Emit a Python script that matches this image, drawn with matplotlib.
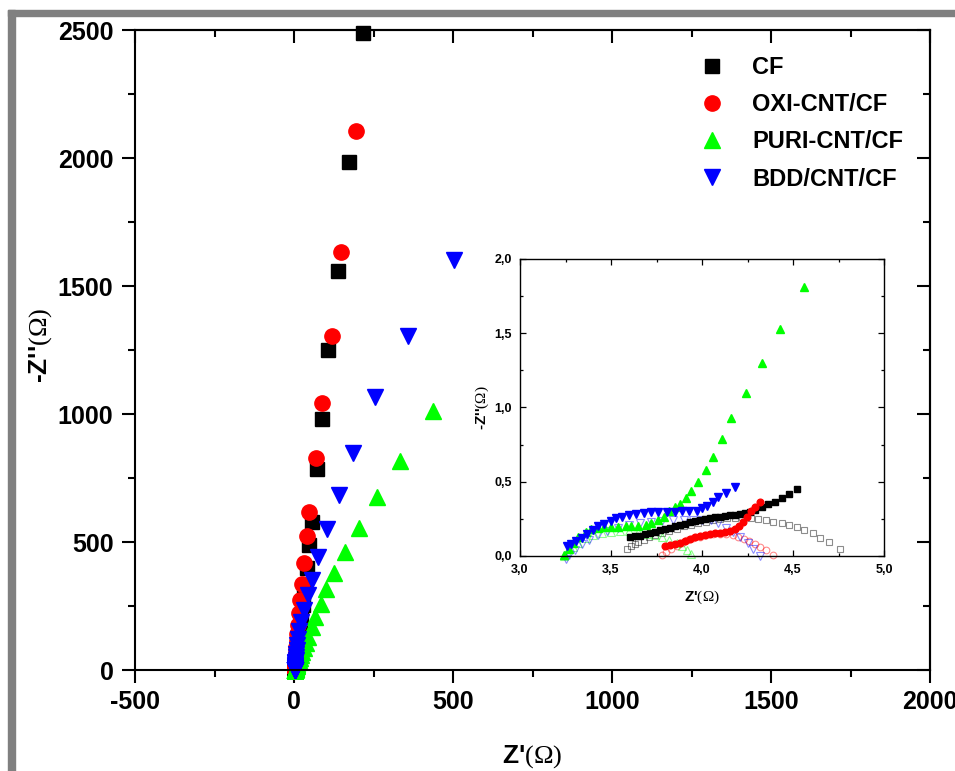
import matplotlib.pyplot as plt
from matplotlib.patches import Rectangle
from matplotlib.ticker import MultipleLocator, FuncFormatter

plt.rcParams['font.family'] = 'Liberation Sans'
plt.rcParams['mathtext.fontset'] = 'custom'
plt.rcParams['mathtext.rm'] = 'Liberation Serif'
plt.rcParams['axes.unicode_minus'] = False

# low-frequency points (main plot)
cf_x = [216, 172, 139, 107, 89, 71, 56, 48, 40, 33, 27, 22, 18, 15, 12, 10, 9, 8, 7, 6.3, 5.7, 5.3, 5.0, 4.8, 4.7, 4.6]
cf_y = [2490, 1986, 1560, 1250, 980, 784, 579, 488, 398, 318, 255, 204, 163, 130, 104, 83, 66, 53, 42, 34, 27, 22, 17, 14, 11, 9]
oxi_x = [195, 147, 119, 89, 68, 48, 40, 31, 25, 19, 15, 12, 10, 8.8, 7.8, 7.0, 6.4, 5.9, 5.5, 5.2, 5.0, 4.8, 4.7, 4.6, 4.5]
oxi_y = [2105, 1632, 1305, 1044, 829, 618, 525, 419, 336, 273, 224, 176, 140, 112, 90, 72, 57, 46, 37, 29, 23, 18, 15, 12, 9]
puri_x = [436, 333, 260, 205, 160, 127, 101, 84, 66, 56, 45, 38, 31, 26, 22, 18, 15, 13, 11, 9.5, 8.3, 7.4, 6.6, 6.0, 5.6, 5.2, 5.0, 4.85, 4.7]
puri_y = [1012, 816, 677, 556, 462, 380, 315, 258, 208, 169, 130, 107, 87, 71, 58, 47, 38, 31, 25, 20, 16, 13, 10, 8, 6.5, 5, 4, 3.2, 2.5]
bdd_x = [503, 358, 255, 186, 142, 103, 76, 56, 45, 31, 21, 16, 12, 10, 8, 6.5, 5.5, 5.0, 4.6, 4.4, 4.3, 4.25, 4.2, 4.2, 4.2, 4.18]
bdd_y = [1602, 1305, 1068, 849, 684, 551, 440, 352, 293, 234, 189, 152, 121, 97, 78, 62, 50, 40, 32, 26, 20, 16, 12, 9, 7, 5]

# high-frequency points (inset, filled)
cf_in_x = [3.604, 3.632, 3.659, 3.687, 3.714, 3.742, 3.769, 3.797, 3.824, 3.852, 3.879, 3.907, 3.934, 3.962, 3.989, 4.017,
           4.044, 4.071, 4.099, 4.126, 4.154, 4.181, 4.209, 4.236, 4.264, 4.291, 4.328, 4.364, 4.401, 4.438, 4.478, 4.520]
cf_in_y = [0.130, 0.134, 0.137, 0.146, 0.153, 0.164, 0.173, 0.182, 0.191, 0.200, 0.209, 0.218, 0.227, 0.236, 0.242, 0.249,
           0.256, 0.260, 0.265, 0.269, 0.274, 0.278, 0.283, 0.290, 0.299, 0.310, 0.330, 0.348, 0.366, 0.389, 0.416, 0.451]
oxi_in_x = [3.797, 3.824, 3.852, 3.879, 3.907, 3.934, 3.962, 3.989, 4.017, 4.044, 4.071, 4.099, 4.126, 4.154, 4.181,
            4.203, 4.225, 4.247, 4.269, 4.291, 4.319]
oxi_in_y = [0.070, 0.074, 0.081, 0.090, 0.101, 0.115, 0.126, 0.135, 0.144, 0.150, 0.155, 0.157, 0.162, 0.168, 0.182,
            0.204, 0.231, 0.265, 0.303, 0.332, 0.361]
puri_in_x = [3.24, 3.27, 3.29, 3.32, 3.36, 3.39, 3.43, 3.46, 3.50, 3.54, 3.58, 3.61, 3.65, 3.69, 3.72, 3.76, 3.79, 3.82,
             3.85, 3.88, 3.91, 3.94, 3.98, 4.02, 4.06, 4.11, 4.16, 4.24, 4.33, 4.43, 4.56]
puri_in_y = [0.01, 0.05, 0.09, 0.13, 0.16, 0.18, 0.19, 0.195, 0.195, 0.197, 0.20, 0.20, 0.205, 0.21, 0.225, 0.24, 0.265,
             0.30, 0.33, 0.35, 0.39, 0.44, 0.50, 0.58, 0.67, 0.79, 0.93, 1.10, 1.30, 1.53, 1.81]
bdd_in_x = [3.26, 3.28, 3.31, 3.34, 3.37, 3.40, 3.43, 3.46, 3.50, 3.53, 3.56, 3.60, 3.64, 3.68, 3.72, 3.76, 3.81, 3.85,
            3.89, 3.93, 3.97, 4.00, 4.03, 4.06, 4.09, 4.13, 4.18]
bdd_in_y = [0.07, 0.08, 0.10, 0.12, 0.15, 0.175, 0.20, 0.215, 0.235, 0.255, 0.265, 0.275, 0.285, 0.29, 0.295, 0.295, 0.295,
            0.295, 0.30, 0.30, 0.306, 0.32, 0.34, 0.366, 0.40, 0.422, 0.463]

# inset, open symbols
cf_o_x = [3.59, 3.61, 3.63, 3.65, 3.68, 3.71, 3.74, 3.78, 3.82, 3.86, 3.90, 3.94, 3.98, 4.02, 4.06, 4.10, 4.14, 4.18,
          4.22, 4.27, 4.31, 4.35, 4.39, 4.44, 4.48, 4.52, 4.56, 4.61, 4.65, 4.70, 4.76]
cf_o_y = [0.05, 0.065, 0.08, 0.095, 0.11, 0.125, 0.14, 0.155, 0.17, 0.185, 0.20, 0.21, 0.22, 0.23, 0.24, 0.248, 0.254,
          0.258, 0.26, 0.258, 0.252, 0.243, 0.232, 0.22, 0.209, 0.193, 0.175, 0.153, 0.124, 0.092, 0.045]
oxi_o_x = [3.78, 3.80, 3.83, 3.86, 3.89, 3.92, 3.95, 3.99, 4.02, 4.06, 4.10, 4.13, 4.17, 4.20, 4.23, 4.26, 4.29, 4.32, 4.35, 4.39]
oxi_o_y = [0.01, 0.03, 0.05, 0.07, 0.09, 0.105, 0.12, 0.13, 0.14, 0.145, 0.148, 0.148, 0.14, 0.13, 0.115, 0.10, 0.08, 0.06, 0.04, 0.01]
puri_o_x = [3.24, 3.26, 3.29, 3.32, 3.36, 3.40, 3.45, 3.50, 3.55, 3.60, 3.65, 3.70, 3.74, 3.78, 3.82, 3.86, 3.89, 3.92, 3.94]
puri_o_y = [0.0, 0.03, 0.06, 0.09, 0.12, 0.14, 0.155, 0.16, 0.165, 0.165, 0.16, 0.15, 0.14, 0.125, 0.11, 0.09, 0.065, 0.04, 0.015]
bdd_o_x = [3.25, 3.27, 3.30, 3.34, 3.38, 3.43, 3.48, 3.54, 3.60, 3.66, 3.72, 3.78, 3.84, 3.90, 3.95, 4.00, 4.05, 4.09,
           4.13, 4.17, 4.21, 4.25, 4.28, 4.32]
bdd_o_y = [-0.02, 0.01, 0.04, 0.08, 0.11, 0.14, 0.17, 0.19, 0.21, 0.22, 0.23, 0.235, 0.24, 0.245, 0.245, 0.245, 0.24,
           0.22, 0.19, 0.16, 0.13, 0.09, 0.05, 0.0]

labels = ['CF', 'OXI-CNT/CF', 'PURI-CNT/CF', 'BDD/CNT/CF']
colors = ['#000000', '#ff0000', '#00ff00', '#0000ff']
markers = ['s', 'o', '^', 'v']
main_ms = [9.5, 11, 12, 12]
inset_ms = [4.2, 4.8, 5.3, 5.3]

main_sets = [(cf_x + cf_in_x, cf_y + cf_in_y), (oxi_x + oxi_in_x, oxi_y + oxi_in_y),
             (puri_x + puri_in_x, puri_y + puri_in_y), (bdd_x + bdd_in_x, bdd_y + bdd_in_y)]
inset_sets = [(cf_in_x, cf_in_y), (oxi_in_x, oxi_in_y), (puri_in_x, puri_in_y), (bdd_in_x, bdd_in_y)]
open_sets = [(cf_o_x, cf_o_y), (oxi_o_x, oxi_o_y), (puri_o_x, puri_o_y), (bdd_o_x, bdd_o_y)]

fig = plt.figure(figsize=(9.55, 7.71), dpi=100)

# grey frame of the screenshot
fig.patches.append(Rectangle((8 / 955, 0), 7 / 955, 761 / 771, transform=fig.transFigure,
                             color='#808080', zorder=0))
fig.patches.append(Rectangle((8 / 955, 755 / 771), 947 / 955, 6 / 771, transform=fig.transFigure,
                             color='#808080', zorder=0))

ax = fig.add_axes([135 / 955, 101 / 771, 795 / 955, 640 / 771])
handles = []
for (xs, ys), lab, c, m, ms in zip(main_sets, labels, colors, markers, main_ms):
    h, = ax.plot(xs, ys, ls='none', marker=m, ms=ms, color=c, mec=c, label=lab, clip_on=False)
    handles.append(h)

ax.set_xlim(-500, 2000)
ax.set_ylim(0, 2500)
ax.xaxis.set_major_locator(MultipleLocator(500))
ax.xaxis.set_minor_locator(MultipleLocator(250))
ax.yaxis.set_major_locator(MultipleLocator(500))
ax.yaxis.set_minor_locator(MultipleLocator(250))
ax.tick_params(which='both', direction='out', width=1.5, top=False, right=False)
ax.tick_params(which='major', length=9.5)
ax.tick_params(which='minor', length=5)
ax.tick_params(axis='x', pad=5, labelsize=18)
ax.tick_params(axis='y', pad=6, labelsize=18)
for lbl in ax.get_xticklabels() + ax.get_yticklabels():
    lbl.set_fontweight('bold')
for sp in ax.spines.values():
    sp.set_linewidth(1.5)

top = ax.secondary_xaxis('top')
top.xaxis.set_major_locator(MultipleLocator(500))
top.xaxis.set_minor_locator(MultipleLocator(250))
top.tick_params(which='both', direction='in', width=1.5, labeltop=False, labelbottom=False)
top.tick_params(which='major', length=9.5)
top.tick_params(which='minor', length=5)
top.spines['top'].set_linewidth(1.5)
right = ax.secondary_yaxis('right')
right.yaxis.set_major_locator(MultipleLocator(500))
right.yaxis.set_minor_locator(MultipleLocator(250))
right.tick_params(which='both', direction='in', width=1.5, labelright=False, labelleft=False)
right.tick_params(which='major', length=9.5)
right.tick_params(which='minor', length=5)
right.spines['right'].set_linewidth(1.5)

ax.set_xlabel("Z'" + r"$\mathrm{(\Omega)}$", fontsize=19, fontweight='bold')
ax.xaxis.set_label_coords(0.5, -0.115)
ax.set_ylabel("-Z''" + r"$\mathrm{(\Omega)}$", fontsize=19, fontweight='bold')
ax.yaxis.set_label_coords(-0.102, 0.508)

ax.legend(handles=handles, loc='upper left', bbox_to_anchor=(700 / 955, 715 / 771),
          bbox_transform=fig.transFigure, frameon=False, numpoints=1,
          prop={'weight': 'bold', 'size': 17}, handlelength=1.0, handletextpad=1.2,
          labelspacing=0.6, borderpad=0, borderaxespad=0)

# inset
ins = fig.add_axes([520 / 955, 215 / 771, 364 / 955, 297 / 771])
for (xs, ys), c, m, ms in zip(open_sets, colors, markers, inset_ms):
    ins.plot(xs, ys, ls='none', marker=m, ms=ms, mfc='none', mec=c, mew=0.8, alpha=0.45, clip_on=False)
for (xs, ys), c, m, ms in zip(inset_sets, colors, markers, inset_ms):
    ins.plot(xs, ys, ls='none', marker=m, ms=ms, color=c, mec=c, clip_on=False)

ins.set_xlim(3.0, 5.0)
ins.set_ylim(0, 2.0)
ins.xaxis.set_major_locator(MultipleLocator(0.5))
ins.xaxis.set_minor_locator(MultipleLocator(0.25))
ins.yaxis.set_major_locator(MultipleLocator(0.5))
ins.yaxis.set_minor_locator(MultipleLocator(0.25))
comma = FuncFormatter(lambda v, p: f"{v:.1f}".replace('.', ','))
ins.xaxis.set_major_formatter(comma)
ins.yaxis.set_major_formatter(comma)
ins.tick_params(which='both', direction='in', top=True, right=True, width=0.9, labelsize=9, pad=6)
ins.tick_params(which='major', length=4)
ins.tick_params(which='minor', length=2.5)
for lbl in ins.get_xticklabels() + ins.get_yticklabels():
    lbl.set_fontweight('bold')
for sp in ins.spines.values():
    sp.set_linewidth(1.0)
ins.set_xlabel("Z'" + r"$\mathrm{(\Omega)}$", fontsize=11, fontweight='bold', labelpad=9)
ins.set_ylabel("-Z''" + r"$\mathrm{(\Omega)}$", fontsize=11, fontweight='bold', labelpad=2)

fig.savefig('out.png', dpi=100)
